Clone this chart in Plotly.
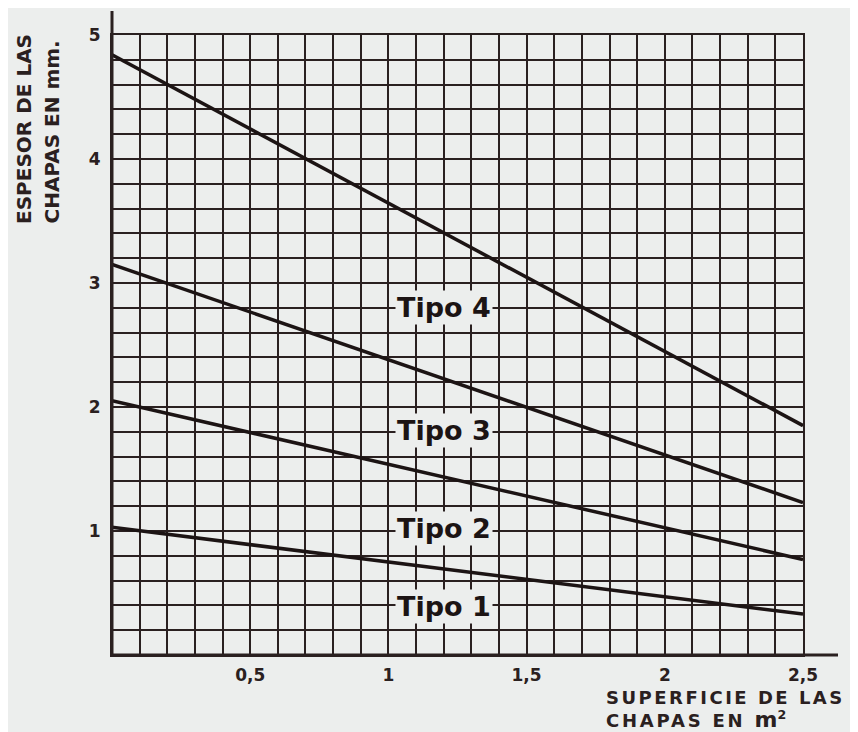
import plotly.graph_objects as go

# ---- data ----
superficie = [0.0, 2.5]
tipo1 = [1.03, 0.33]
tipo2 = [2.05, 0.77]
tipo3 = [3.15, 1.23]
tipo4 = [4.84, 1.85]
series_names = ["Tipo 1", "Tipo 2", "Tipo 3", "Tipo 4"]
x_tickvals = [0.5, 1, 1.5, 2, 2.5]
x_ticktext = ["0,5", "1", "1,5", "2", "2,5"]
y_tickvals = [1, 2, 3, 4, 5]
y_ticktext = ["1", "2", "3", "4", "5"]

BG = "#eceeed"
INK = "#2a2020"
OFF = 8  # page body margin
W, H = 858 - OFF, 732 - OFF
L, R, T, B = 112 - OFF, 803 - OFF, 35 - OFF, 655 - OFF

def px(xp):
    return (xp - OFF - L) / (R - L)

def py(yp):
    return (B - (yp - OFF)) / (B - T)

fig = go.Figure()
for name, ys in zip(series_names, [tipo1, tipo2, tipo3, tipo4]):
    fig.add_trace(go.Scatter(x=superficie, y=ys, mode="lines", name=name,
                             line=dict(color="#1c1414", width=3.5),
                             showlegend=False, hoverinfo="skip"))

label_y = {"Tipo 4": 2.80, "Tipo 3": 1.81, "Tipo 2": 1.02, "Tipo 1": 0.39}
for name in series_names:
    fig.add_annotation(x=1.2, y=label_y[name], xref="x", yref="y", text="<b>%s</b>" % name,
                       showarrow=False, bgcolor=BG, borderpad=1,
                       font=dict(family="DejaVu Sans", size=27, color="#1c1414"))

tfont = dict(family="DejaVu Sans", size=20, color=INK)
fig.add_annotation(x=px(24), y=py(226), xref="paper", yref="paper", text="<b>ESPESOR DE LAS</b>",
                   textangle=-90, showarrow=False, xanchor="center", yanchor="bottom", font=tfont)
fig.add_annotation(x=px(51), y=py(226), xref="paper", yref="paper", text="<b>CHAPAS EN mm.</b>",
                   textangle=-90, showarrow=False, xanchor="center", yanchor="bottom", font=tfont)
xfont = dict(family="DejaVu Sans", size=18, color=INK)
fig.add_annotation(x=px(604), y=py(697), xref="paper", yref="paper",
                   text="<b><span style='letter-spacing:2.5px'>SUPERFICIE DE LAS</span></b>",
                   showarrow=False, xanchor="left", yanchor="middle", font=xfont)
fig.add_annotation(x=px(604), y=py(720), xref="paper", yref="paper",
                   text="<b><span style='letter-spacing:2.8px'>CHAPAS EN </span>"
                        "<span style='font-size:22px'>m</span><sup>2</sup></b>",
                   showarrow=False, xanchor="left", yanchor="middle", font=xfont)

# thicker axis lines with their extensions
fig.add_shape(type="line", xref="x domain", yref="y domain", x0=0, x1=0, y0=0, y1=py(11),
              line=dict(color=INK, width=3))
fig.add_shape(type="line", xref="x domain", yref="y domain", x0=0, x1=px(838), y0=0, y1=0,
              line=dict(color=INK, width=3))

tickfont = dict(family="DejaVu Sans", size=17, color=INK, weight="bold")
fig.update_xaxes(range=[0, 2.5], tickvals=x_tickvals, ticktext=x_ticktext, tickfont=tickfont,
                 showgrid=True, gridcolor=INK, gridwidth=2,
                 minor=dict(dtick=0.1, showgrid=True, gridcolor=INK, gridwidth=2, ticks=""),
                 showline=True, linecolor=INK, linewidth=2, mirror=True,
                 ticks="outside", ticklen=4, tickcolor="rgba(0,0,0,0)", zeroline=False)
fig.update_yaxes(range=[0, 5], tickvals=y_tickvals, ticktext=y_ticktext, tickfont=tickfont,
                 showgrid=True, gridcolor=INK, gridwidth=2,
                 minor=dict(dtick=0.2, showgrid=True, gridcolor=INK, gridwidth=2, ticks=""),
                 showline=True, linecolor=INK, linewidth=2, mirror=True,
                 ticks="outside", ticklen=6, tickcolor="rgba(0,0,0,0)", zeroline=False)
fig.update_layout(width=W, height=H, autosize=False,
                  margin=dict(l=L, r=W - R, t=T, b=H - B),
                  paper_bgcolor=BG, plot_bgcolor=BG)
fig.write_html("out.html")
